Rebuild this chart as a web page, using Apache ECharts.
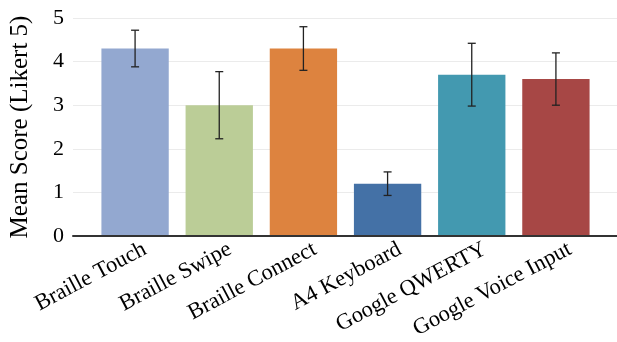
<!DOCTYPE html>
<html>
<head>
<meta charset="utf-8">
<script src="https://cdn.jsdelivr.net/npm/echarts@6/dist/echarts.min.js"></script>
<style>
html,body{margin:0;padding:0;background:#fff;}
#chart{width:617px;height:342px;}
</style>
</head>
<body>
<div id="chart"></div>
<script>
const categories = ['Braille Touch', 'Braille Swipe', 'Braille Connect', 'A4 Keyboard', 'Google QWERTY', 'Google Voice Input'];
const means = [4.3, 3.0, 4.3, 1.2, 3.7, 3.6];
const errors = [0.42, 0.77, 0.5, 0.27, 0.72, 0.6];
const barColors = ['#93A8D0', '#BBCD97', '#DD833F', '#4471A6', '#4399B0', '#A74745'];
const yTicks = [0, 1, 2, 3, 4, 5];

const font = '"Liberation Serif", "Times New Roman", serif';
const chart = echarts.init(document.getElementById('chart'), null, {renderer: 'canvas'});

const errData = means.map((m, i) => [i, m - errors[i], m + errors[i]]);

chart.setOption({
  animation: false,
  backgroundColor: '#fff',
  grid: [
    {left: 71, right: 0, top: 18, bottom: 106},
    {left: 93, right: 19, top: 18, bottom: 106},
    {left: 102.5, right: 4.5, top: 18, bottom: 106}
  ],
  xAxis: [
    {gridIndex: 0, type: 'category', data: categories, axisLine: {show: true, lineStyle: {color: '#333', width: 2}}, axisTick: {show: false}, axisLabel: {show: false}, z: 10},
    {gridIndex: 1, type: 'category', data: categories, axisLine: {show: false}, axisTick: {show: false}, axisLabel: {show: false}},
    {gridIndex: 2, type: 'category', data: categories, axisLine: {show: false}, axisTick: {show: false},
     axisLabel: {show: true, rotate: 28, margin: 15, interval: 0, fontFamily: font, fontSize: 22.5, color: '#000'}}
  ],
  yAxis: [
    {gridIndex: 0, type: 'value', min: 0, max: 5, interval: 1,
     name: 'Mean Score (Likert 5)', nameLocation: 'middle', nameGap: 40,
     nameTextStyle: {fontFamily: font, fontSize: 25, color: '#000'},
     axisLine: {show: false}, axisTick: {show: false},
     axisLabel: {fontFamily: font, fontSize: 22, color: '#000', margin: 9, formatter: v => yTicks.includes(v) ? String(v) : ''},
     splitLine: {show: true, lineStyle: {color: '#ebebeb', width: 1}}},
    {gridIndex: 1, type: 'value', min: 0, max: 5, interval: 1, show: false, splitLine: {show: false}},
    {gridIndex: 2, type: 'value', min: 0, max: 5, interval: 1, show: false, splitLine: {show: false}}
  ],
  series: [
    {
      type: 'bar', xAxisIndex: 1, yAxisIndex: 1, barWidth: '80%',
      data: means.map((v, i) => ({value: v, itemStyle: {color: barColors[i]}})),
      z: 2
    },
    {
      type: 'custom', xAxisIndex: 1, yAxisIndex: 1, z: 5,
      data: errData,
      renderItem: function (params, api) {
        const x = api.value(0);
        const lo = api.coord([x, api.value(1)]);
        const hi = api.coord([x, api.value(2)]);
        const hw = 4;
        const style = {stroke: '#222', lineWidth: 1.3};
        return {
          type: 'group',
          children: [
            {type: 'line', shape: {x1: hi[0], y1: hi[1], x2: lo[0], y2: lo[1]}, style: style},
            {type: 'line', shape: {x1: hi[0] - hw, y1: hi[1], x2: hi[0] + hw, y2: hi[1]}, style: style},
            {type: 'line', shape: {x1: lo[0] - hw, y1: lo[1], x2: lo[0] + hw, y2: lo[1]}, style: style}
          ]
        };
      }
    }
  ]
});
</script>
</body>
</html>
